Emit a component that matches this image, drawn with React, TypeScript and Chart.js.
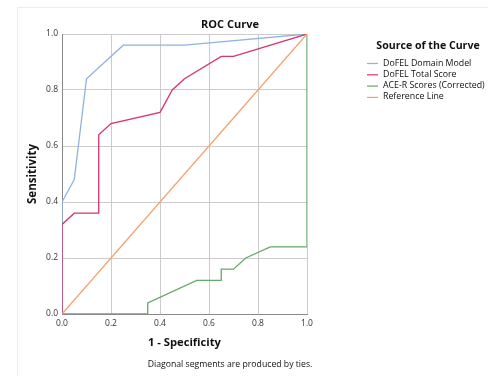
import React, { useEffect, useRef } from "react";
import { Chart, registerables } from "chart.js";

Chart.register(...registerables);

// ---- data ----
const seriesLabels = [
  "DoFEL Domain Model",
  "DoFEL Total Score",
  "ACE-R Scores (Corrected)",
  "Reference Line",
];
const seriesColors = ["#8fb3e0", "#d8336a", "#68a868", "#f3a06c"];

const domainX = [0, 0, 0.05, 0.1, 0.25, 0.5, 1];
const domainY = [0, 0.4, 0.48, 0.84, 0.96, 0.96, 1];

const totalX = [0, 0, 0.05, 0.15, 0.15, 0.2, 0.4, 0.45, 0.5, 0.65, 0.7, 1];
const totalY = [0, 0.32, 0.36, 0.36, 0.64, 0.68, 0.72, 0.8, 0.84, 0.92, 0.92, 1];

const aceX = [0, 0.35, 0.35, 0.55, 0.65, 0.65, 0.7, 0.75, 0.85, 1, 1];
const aceY = [0, 0, 0.04, 0.12, 0.12, 0.16, 0.16, 0.2, 0.24, 0.24, 1];

const refX = [0, 1];
const refY = [0, 1];

const chartTitle = "ROC Curve";
const legendTitle = "Source of the Curve";
const xTitle = "1 - Specificity";
const yTitle = "Sensitivity";
const footnote = "Diagonal segments are produced by ties.";

const FONT = "'Open Sans', 'DejaVu Sans', sans-serif";

const zip = (xs: number[], ys: number[]) => xs.map((x, i) => ({ x, y: ys[i] }));

const textPlugin = {
  id: "spssText",
  beforeDraw(chart: any) {
    const { ctx, width, height } = chart;
    ctx.save();
    ctx.strokeStyle = "#ececec";
    ctx.lineWidth = 1;
    ctx.beginPath();
    ctx.moveTo(17.5, height);
    ctx.lineTo(17.5, 7.5);
    ctx.lineTo(width, 7.5);
    ctx.stroke();
    ctx.restore();
  },
  afterDraw(chart: any) {
    const { ctx, chartArea } = chart;
    const cx = chartArea.left + 168;
    ctx.save();
    ctx.fillStyle = "#111";
    ctx.textAlign = "center";
    ctx.textBaseline = "middle";
    ctx.font = `bold 11px ${FONT}`;
    ctx.fillText(chartTitle, cx, chartArea.top - 9);
    ctx.font = `8.7px ${FONT}`;
    ctx.fillText(footnote, cx, chartArea.bottom + 51);

    // legend
    const lx = chartArea.right + 60;
    const ly = chartArea.top + 12;
    ctx.font = `bold 10.6px ${FONT}`;
    ctx.fillText(legendTitle, lx + 61, ly);
    ctx.font = `8.8px ${FONT}`;
    ctx.textAlign = "left";
    chart.data.datasets.forEach((ds: any, i: number) => {
      const y = ly + 17 + i * 11.3;
      ctx.strokeStyle = ds.borderColor;
      ctx.lineWidth = 1.2;
      ctx.beginPath();
      ctx.moveTo(lx, y + 0.5);
      ctx.lineTo(lx + 11, y + 0.5);
      ctx.stroke();
      ctx.fillStyle = "#111";
      ctx.fillText(ds.label, lx + 16, y);
    });
    ctx.restore();
  },
};

export default function App() {
  const ref = useRef<HTMLCanvasElement>(null);
  useEffect(() => {
    if (!ref.current) return;
    const allX = [domainX, totalX, aceX, refX];
    const allY = [domainY, totalY, aceY, refY];
    const orders = [4, 3, 2, 1];
    const chart = new Chart(ref.current, {
      type: "line",
      data: {
        datasets: seriesLabels.map((label, i) => ({
          label,
          data: zip(allX[i], allY[i]),
          borderColor: seriesColors[i],
          backgroundColor: seriesColors[i],
          borderWidth: 1.3,
          pointRadius: 0,
          tension: 0,
          fill: false,
          order: orders[i],
        })),
      },
      options: {
        responsive: false,
        animation: false,
        devicePixelRatio: 1,
        layout: { padding: { top: 34, right: 181, left: 0, bottom: 0 } },
        plugins: { legend: { display: false }, tooltip: { enabled: false } },
        scales: {
          x: {
            type: "linear",
            min: 0,
            max: 1,
            afterFit: (s: any) => {
              s.height = 62;
            },
            ticks: {
              stepSize: 0.2,
              padding: 4,
              color: "#333",
              font: { size: 8.5, family: FONT },
              callback: (v: any) => Number(v).toFixed(1),
            },
            grid: { color: "#cccccc", drawTicks: false, lineWidth: 1 },
            border: { color: "#8a8a8a", width: 1 },
            title: {
              display: true,
              text: xTitle,
              color: "#111",
              font: { size: 11.2, weight: "bold", family: FONT },
              padding: { top: 0, bottom: 26 },
            },
          },
          y: {
            type: "linear",
            min: 0,
            max: 1,
            afterFit: (s: any) => {
              s.width = 62;
            },
            ticks: {
              stepSize: 0.2,
              padding: 4,
              color: "#333",
              font: { size: 8.5, family: FONT },
              callback: (v: any) => Number(v).toFixed(1),
            },
            grid: { color: "#cccccc", drawTicks: false, lineWidth: 1 },
            border: { color: "#8a8a8a", width: 1 },
            title: {
              display: true,
              text: yTitle,
              color: "#111",
              font: { size: 11.5, weight: "bold", family: FONT },
              padding: { top: 26, bottom: 0 },
            },
          },
        },
      },
      plugins: [textPlugin],
    });
    return () => chart.destroy();
  }, []);
  return (
    <div style={{ position: "fixed", left: 0, top: 0, width: 488, height: 376, background: "#fff" }}>
      <canvas ref={ref} width={488} height={376} style={{ display: "block" }} />
    </div>
  );
}
